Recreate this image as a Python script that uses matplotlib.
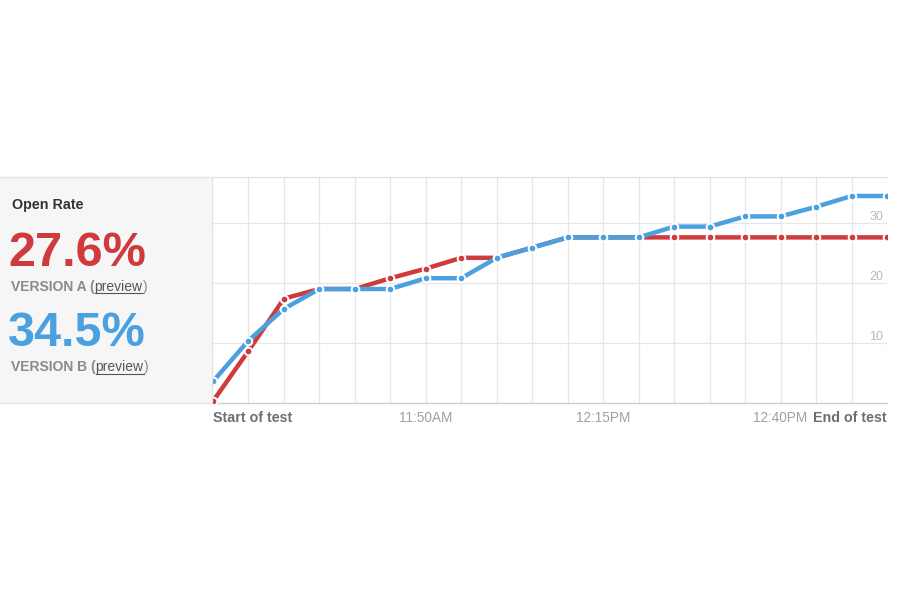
import matplotlib
matplotlib.use("Agg")
import matplotlib.pyplot as plt
from matplotlib.patches import Rectangle
from matplotlib.lines import Line2D

plt.rcParams['font.family'] = ['Liberation Sans', 'DejaVu Sans']

# ---- data ----
steps = list(range(20))
version_a = [0.3, 8.7, 17.4, 19.0, 19.0, 20.8, 22.4, 24.2, 24.2, 25.9,
             27.6, 27.6, 27.6, 27.6, 27.6, 27.6, 27.6, 27.6, 27.6, 27.6]
version_b = [3.6, 10.4, 15.7, 19.0, 19.0, 19.0, 20.8, 20.8, 24.2, 25.9,
             27.6, 27.6, 27.6, 29.4, 29.4, 31.1, 31.1, 32.7, 34.5, 34.5]
tick_pos = [0, 6, 11, 16, 19]
tick_labels = ["Start of test", "11:50AM", "12:15PM", "12:40PM", "End of test"]
y_ticks = [10, 20, 30]
rate_a = "27.6%"
rate_b = "34.5%"

RED = "#cf3a3c"
BLUE = "#4ba1e0"

fig = plt.figure(figsize=(9, 6), dpi=100)
fig.patch.set_facecolor("white")

W, H = 900, 600
def fx(px): return px / W
def fy(py): return 1 - py / H

ax_left, ax_right, ax_top, ax_bot = 213, 887, 177, 403
ax = fig.add_axes([fx(ax_left), fy(ax_bot), fx(ax_right - ax_left), fy(ax_top) - fy(ax_bot)])
ax.set_facecolor("white")

ax.set_xlim(0, 19)
ax.set_ylim(0, (ax_bot - ax_top) / 6.0)

for i in steps[1:]:
    ax.axvline(i, color="#e6e6e6", lw=0.9, zorder=0)
for v in y_ticks:
    ax.axhline(v, color="#e6e6e6", lw=0.9, zorder=0)
    ax.text(18.9, v + 1.0, str(v), ha="right", va="center", color="#b8b8b8", fontsize=9, zorder=1)

for vals, col in ((version_a, RED), (version_b, BLUE)):
    ax.plot(steps, vals, color=col, lw=3.2, solid_capstyle="butt", zorder=3,
            marker="o", markersize=5.5, markerfacecolor=col,
            markeredgecolor="white", markeredgewidth=1.4)

for s in ("left", "right"):
    ax.spines[s].set_visible(False)
ax.spines["top"].set_color("#e2e2e2")
ax.spines["top"].set_linewidth(0.9)
ax.spines["bottom"].set_color("#cccccc")
ax.spines["bottom"].set_linewidth(1.0)
ax.set_yticks([])
ax.set_xticks([])

# x tick labels
ylab = -1.4
for p, lab in zip(tick_pos, tick_labels):
    if p == 0:
        ax.text(p, ylab, lab, ha="left", va="top", fontsize=10.3, fontweight="bold", color="#6e6e6e", clip_on=False)
    elif p == 19:
        ax.text(p, ylab, lab, ha="right", va="top", fontsize=10.3, fontweight="bold", color="#6e6e6e", clip_on=False)
    else:
        ax.text(p, ylab, lab, ha="center", va="top", fontsize=9.8, color="#a0a0a0", clip_on=False)

# left panel
panel = Rectangle((fx(-2), fy(ax_bot)), fx(212 + 2), fy(ax_top) - fy(ax_bot),
                  transform=fig.transFigure, facecolor="#f6f6f6", edgecolor="#e2e2e2", lw=0.9, zorder=0)
fig.patches.append(panel)

fig.text(fx(12), fy(205), "Open Rate", ha="left", va="center", fontsize=10.3, fontweight="bold", color="#333333")
fig.text(fx(8), fy(253), rate_a, ha="left", va="center", fontsize=35, fontweight="bold", color=RED)
fig.text(fx(8), fy(333), rate_b, ha="left", va="center", fontsize=35, fontweight="bold", color=BLUE)

renderer = fig.canvas.get_renderer()

def version_line(py, name):
    x = 11
    t1 = fig.text(fx(x), fy(py), name + " (", ha="left", va="center", fontsize=10, color="#8a8a8a", fontweight="bold")
    bb = t1.get_window_extent(renderer)
    x2 = bb.x1
    t2 = fig.text(x2 / W, fy(py), "preview", ha="left", va="center", fontsize=10, color="#555555")
    bb2 = t2.get_window_extent(renderer)
    fig.lines.append(Line2D([bb2.x0 / W, bb2.x1 / W], [(bb2.y0 + 0.5) / H, (bb2.y0 + 0.5) / H],
                            transform=fig.transFigure, color="#555555", lw=0.8))
    fig.text(bb2.x1 / W, fy(py), ")", ha="left", va="center", fontsize=10, color="#8a8a8a")

version_line(287, "VERSION A")
version_line(367, "VERSION B")

fig.savefig("out.png", dpi=100)
